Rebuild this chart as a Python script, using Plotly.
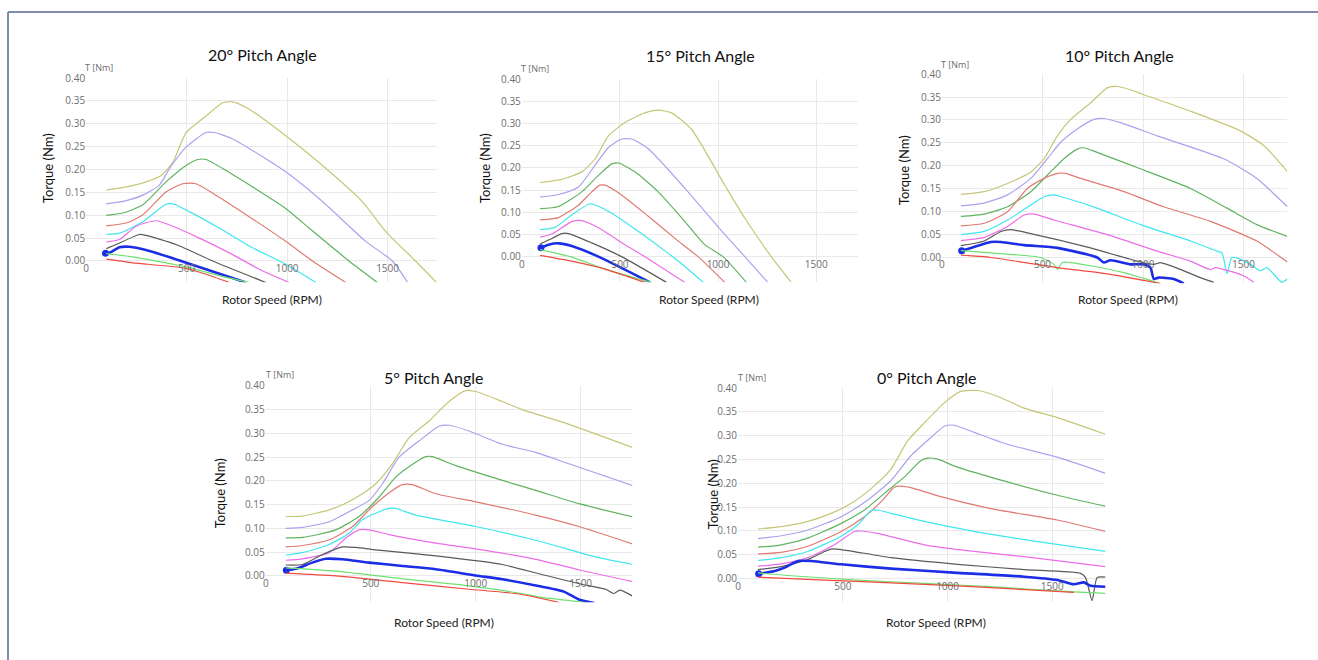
import plotly.graph_objects as go

W, H = 1318, 660

# ---------------- data (RPM, torque Nm) ----------------
# 20 deg
p20_olive_x = [100,199,298,373,431,497,596,679,729,811,993,1176,1374,1490,1639,1750]
p20_olive_y = [0.155,0.162,0.173,0.187,0.216,0.281,0.317,0.346,0.348,0.332,0.274,0.209,0.130,0.065,0.000,-0.050]
p20_purple_x = [100,190,282,364,414,497,596,638,729,993,1176,1391,1524,1600]
p20_purple_y = [0.125,0.131,0.144,0.166,0.202,0.249,0.281,0.281,0.267,0.195,0.130,0.043,0.000,-0.047]
p20_green_x = [100,182,282,397,497,555,596,696,993,1109,1308,1449]
p20_green_y = [0.100,0.105,0.123,0.173,0.209,0.222,0.222,0.198,0.115,0.072,0.000,-0.047]
p20_salmon_x = [100,199,282,397,480,546,646,811,993,1126,1292]
p20_salmon_y = [0.077,0.083,0.101,0.151,0.169,0.169,0.144,0.097,0.043,0.000,-0.047]
p20_cyan_x = [100,166,282,397,431,513,662,828,993,1143]
p20_cyan_y = [0.058,0.061,0.086,0.124,0.125,0.108,0.072,0.029,-0.007,-0.047]
p20_magenta_x = [100,166,248,348,431,563,729,861,1010]
p20_magenta_y = [0.042,0.047,0.076,0.088,0.076,0.050,0.014,-0.018,-0.047]
p20_gray_x = [100,149,265,298,447,629,894]
p20_gray_y = [0.027,0.036,0.058,0.056,0.036,0.000,-0.047]
p20_blue_x = [96,116,166,215,315,513,795]
p20_blue_y = [0.017,0.018,0.030,0.031,0.022,-0.006,-0.047]
p20_lime_x = [100,232,397,497,662,811]
p20_lime_y = [0.016,0.009,-0.004,-0.013,-0.032,-0.047]
p20_red_x = [100,232,497,596,712]
p20_red_y = [0.004,-0.004,-0.016,-0.029,-0.047]

# 15 deg
p15_olive_x = [93,203,305,373,441,525,627,695,763,864,1034,1136,1271,1373]
p15_olive_y = [0.167,0.174,0.191,0.220,0.272,0.302,0.324,0.330,0.324,0.287,0.161,0.087,0.000,-0.058]
p15_purple_x = [93,186,288,373,441,508,559,644,831,1034,1136,1254]
p15_purple_y = [0.134,0.140,0.157,0.206,0.246,0.265,0.265,0.243,0.154,0.050,0.000,-0.058]
p15_green_x = [93,186,305,390,458,492,576,695,831,932,1025,1144]
p15_green_y = [0.108,0.113,0.146,0.183,0.209,0.211,0.191,0.146,0.079,0.027,0.000,-0.058]
p15_salmon_x = [93,186,288,356,398,424,508,644,797,898,1034]
p15_salmon_y = [0.083,0.088,0.116,0.146,0.161,0.161,0.139,0.091,0.035,0.000,-0.058]
p15_cyan_x = [93,169,254,339,364,458,593,729,797,924]
p15_cyan_y = [0.061,0.066,0.094,0.118,0.118,0.098,0.057,0.013,-0.010,-0.058]
p15_magenta_x = [93,153,254,305,390,525,627,831]
p15_magenta_y = [0.044,0.051,0.079,0.081,0.065,0.027,0.000,-0.058]
p15_gray_x = [93,153,203,237,356,508,737]
p15_gray_y = [0.029,0.041,0.052,0.052,0.031,0.000,-0.058]
p15_blue_x = [97,136,186,254,390,653]
p15_blue_y = [0.020,0.027,0.030,0.024,0.000,-0.058]
p15_lime_x = [93,254,424,661]
p15_lime_y = [0.016,-0.001,-0.028,-0.058]
p15_red_x = [93,254,424,627]
p15_red_y = [0.003,-0.010,-0.028,-0.058]

# 10 deg
p10_olive_x = [94,210,326,442,508,574,640,739,822,872,938,1005,1236,1484,1600,1718]
p10_olive_y = [0.137,0.143,0.161,0.186,0.215,0.265,0.301,0.337,0.370,0.373,0.366,0.355,0.319,0.276,0.244,0.187]
p10_purple_x = [94,210,326,442,524,591,673,756,805,888,1070,1401,1566,1718]
p10_purple_y = [0.112,0.118,0.136,0.172,0.215,0.251,0.280,0.301,0.303,0.294,0.265,0.215,0.172,0.110]
p10_green_x = [94,210,326,442,524,607,673,706,772,987,1236,1418,1566,1718]
p10_green_y = [0.089,0.094,0.110,0.143,0.179,0.215,0.236,0.239,0.229,0.193,0.150,0.107,0.071,0.045]
p10_salmon_x = [94,210,326,425,508,574,615,690,905,1103,1335,1566,1718]
p10_salmon_y = [0.068,0.074,0.099,0.150,0.172,0.183,0.183,0.172,0.143,0.110,0.078,0.035,-0.011]
p10_cyan_x = [94,210,326,442,508,557,624,772,987,1236,1368,1393,1418,1442,1475,1533,1583,1616,1649,1690,1718]
p10_cyan_y = [0.049,0.056,0.081,0.114,0.132,0.136,0.128,0.107,0.071,0.035,0.013,0.009,-0.036,-0.001,-0.003,-0.016,-0.030,-0.023,-0.037,-0.055,-0.048]
p10_magenta_x = [94,210,326,409,458,557,822,1070,1236,1335,1360,1500,1550]
p10_magenta_y = [0.036,0.043,0.067,0.092,0.094,0.081,0.049,0.013,-0.009,-0.027,-0.023,-0.041,-0.055]
p10_gray_x = [94,210,293,342,425,739,971,1054,1087,1186,1285,1351]
p10_gray_y = [0.025,0.035,0.056,0.060,0.053,0.020,-0.009,-0.016,-0.012,-0.027,-0.045,-0.055]
p10_blue_x = [98,144,243,293,409,574,772,805,839,938,1004,1037,1054,1078,1153,1203]
p10_blue_y = [0.014,0.020,0.033,0.033,0.026,0.020,-0.001,-0.012,-0.007,-0.016,-0.016,-0.023,-0.048,-0.045,-0.048,-0.058]
p10_lime_x = [94,243,491,557,574,599,640,739,905,1087]
p10_lime_y = [0.014,0.009,-0.001,-0.016,-0.027,-0.012,-0.012,-0.019,-0.034,-0.058]
p10_red_x = [94,243,574,822,1087]
p10_red_y = [0.004,-0.001,-0.023,-0.037,-0.058]

# 5 deg
p5_olive_x = [95,175,302,381,460,524,603,683,778,873,952,1000,1127,1222,1444,1750]
p5_olive_y = [0.125,0.126,0.139,0.153,0.173,0.194,0.236,0.291,0.326,0.367,0.390,0.388,0.367,0.350,0.319,0.270]
p5_purple_x = [95,175,302,413,492,556,635,730,825,873,968,1127,1286,1444,1750]
p5_purple_y = [0.100,0.102,0.114,0.139,0.159,0.194,0.250,0.284,0.315,0.317,0.305,0.277,0.260,0.236,0.190]
p5_green_x = [95,175,333,444,540,619,714,762,794,905,1127,1286,1492,1750]
p5_green_y = [0.080,0.081,0.097,0.125,0.166,0.208,0.239,0.251,0.251,0.232,0.201,0.180,0.152,0.124]
p5_salmon_x = [95,175,302,413,508,603,651,698,810,1000,1286,1492,1750]
p5_salmon_y = [0.061,0.064,0.076,0.104,0.146,0.180,0.192,0.192,0.173,0.156,0.128,0.104,0.067]
p5_cyan_x = [95,175,302,397,460,540,587,619,714,1000,1286,1571,1750]
p5_cyan_y = [0.044,0.049,0.066,0.090,0.118,0.135,0.142,0.142,0.128,0.104,0.075,0.040,0.024]
p5_magenta_x = [95,175,302,381,444,492,587,810,1000,1286,1500,1750]
p5_magenta_y = [0.033,0.036,0.049,0.080,0.097,0.097,0.087,0.069,0.057,0.035,0.012,-0.012]
p5_gray_x = [95,175,270,365,429,524,810,1127,1315,1500,1620,1656,1687,1746]
p5_gray_y = [0.023,0.024,0.045,0.061,0.060,0.055,0.042,0.024,0.003,-0.017,-0.028,-0.037,-0.030,-0.042]
p5_blue_x = [98,143,222,286,365,492,651,810,1000,1127,1286,1420,1494,1565]
p5_blue_y = [0.012,0.015,0.028,0.036,0.035,0.028,0.021,0.014,0.001,-0.007,-0.020,-0.033,-0.050,-0.057]
p5_lime_x = [95,333,651,968,1206,1315,1470,1560]
p5_lime_y = [0.017,0.010,-0.006,-0.021,-0.036,-0.045,-0.053,-0.058]
p5_red_x = [95,333,651,968,1206,1400]
p5_red_y = [0.006,0.000,-0.014,-0.028,-0.038,-0.056]

# 0 deg
p0_olive_x = [95,206,333,444,540,635,730,809,889,984,1063,1143,1238,1365,1524,1754]
p0_olive_y = [0.104,0.109,0.120,0.137,0.158,0.189,0.230,0.289,0.327,0.369,0.393,0.395,0.383,0.358,0.338,0.303]
p0_purple_x = [95,206,333,492,619,730,825,920,984,1032,1127,1285,1524,1754]
p0_purple_y = [0.084,0.090,0.102,0.130,0.165,0.206,0.258,0.296,0.320,0.322,0.307,0.282,0.255,0.221]
p0_green_x = [95,206,333,492,603,698,793,873,905,952,1047,1285,1524,1754]
p0_green_y = [0.066,0.071,0.085,0.116,0.144,0.179,0.213,0.248,0.253,0.251,0.234,0.203,0.175,0.152]
p0_salmon_x = [95,206,333,492,603,682,746,778,841,968,1206,1524,1754]
p0_salmon_y = [0.052,0.055,0.068,0.099,0.130,0.161,0.192,0.194,0.189,0.172,0.147,0.123,0.099]
p0_cyan_x = [95,206,333,492,571,635,666,730,889,1127,1365,1754]
p0_cyan_y = [0.038,0.044,0.057,0.089,0.113,0.143,0.144,0.137,0.120,0.099,0.082,0.057]
p0_magenta_x = [95,206,333,460,555,587,666,889,1127,1365,1754]
p0_magenta_y = [0.026,0.031,0.044,0.071,0.099,0.100,0.095,0.071,0.057,0.046,0.025]
p0_gray_x = [95,206,333,413,444,492,730,1047,1365,1635,1659,1690,1714,1754]
p0_gray_y = [0.019,0.025,0.040,0.057,0.062,0.061,0.044,0.030,0.019,0.011,0.002,-0.046,0.002,0.003]
p0_blue_x = [98,175,222,286,349,492,730,1047,1365,1524,1603,1651,1682,1754]
p0_blue_y = [0.010,0.016,0.023,0.037,0.037,0.030,0.021,0.012,0.004,-0.003,-0.012,-0.008,-0.015,-0.017]
p0_lime_x = [95,254,571,889,1206,1603,1754]
p0_lime_y = [0.012,0.006,-0.003,-0.010,-0.017,-0.028,-0.031]
p0_red_x = [95,413,889,1206,1603]
p0_red_y = [0.003,-0.003,-0.012,-0.019,-0.029]

titles = ["20° Pitch Angle", "15° Pitch Angle", "10° Pitch Angle", "5° Pitch Angle", "0° Pitch Angle"]
y_ticks = [0.00, 0.05, 0.10, 0.15, 0.20, 0.25, 0.30, 0.35, 0.40]
x_ticks = [0, 500, 1000, 1500]

series_names = ["olive", "purple", "green", "salmon", "cyan", "magenta", "gray", "blue", "lime", "red"]
colors = {"olive": "#c6c678", "purple": "#a9a2ee", "green": "#5fb35f", "salmon": "#df7a72",
          "cyan": "#3ee6f0", "magenta": "#ec6de8", "gray": "#5a5a5a", "blue": "#1c2de6",
          "lime": "#6fe06f", "red": "#f04a40"}

panels_data = [
    [(p20_olive_x, p20_olive_y), (p20_purple_x, p20_purple_y), (p20_green_x, p20_green_y), (p20_salmon_x, p20_salmon_y), (p20_cyan_x, p20_cyan_y), (p20_magenta_x, p20_magenta_y), (p20_gray_x, p20_gray_y), (p20_blue_x, p20_blue_y), (p20_lime_x, p20_lime_y), (p20_red_x, p20_red_y)],
    [(p15_olive_x, p15_olive_y), (p15_purple_x, p15_purple_y), (p15_green_x, p15_green_y), (p15_salmon_x, p15_salmon_y), (p15_cyan_x, p15_cyan_y), (p15_magenta_x, p15_magenta_y), (p15_gray_x, p15_gray_y), (p15_blue_x, p15_blue_y), (p15_lime_x, p15_lime_y), (p15_red_x, p15_red_y)],
    [(p10_olive_x, p10_olive_y), (p10_purple_x, p10_purple_y), (p10_green_x, p10_green_y), (p10_salmon_x, p10_salmon_y), (p10_cyan_x, p10_cyan_y), (p10_magenta_x, p10_magenta_y), (p10_gray_x, p10_gray_y), (p10_blue_x, p10_blue_y), (p10_lime_x, p10_lime_y), (p10_red_x, p10_red_y)],
    [(p5_olive_x, p5_olive_y), (p5_purple_x, p5_purple_y), (p5_green_x, p5_green_y), (p5_salmon_x, p5_salmon_y), (p5_cyan_x, p5_cyan_y), (p5_magenta_x, p5_magenta_y), (p5_gray_x, p5_gray_y), (p5_blue_x, p5_blue_y), (p5_lime_x, p5_lime_y), (p5_red_x, p5_red_y)],
    [(p0_olive_x, p0_olive_y), (p0_purple_x, p0_purple_y), (p0_green_x, p0_green_y), (p0_salmon_x, p0_salmon_y), (p0_cyan_x, p0_cyan_y), (p0_magenta_x, p0_magenta_y), (p0_gray_x, p0_gray_y), (p0_blue_x, p0_blue_y), (p0_lime_x, p0_lime_y), (p0_red_x, p0_red_y)],
]

# ---------------- layout geometry (pixels) ----------------
geom = [
    dict(x0=83.3, x1=435.0, xmax=1746, top=71.7, zero=256.7, bottom=278.3),
    dict(x0=520.0, x1=856.7, xmax=1712, top=72.7, zero=252.3, bottom=278.3),
    dict(x0=941.0, x1=1287.3, xmax=1718, top=67.7, zero=252.7, bottom=279.3),
    dict(x0=263.3, x1=630.7, xmax=1746, top=382.7, zero=575.0, bottom=601.7),
    dict(x0=736.7, x1=1105.0, xmax=1754, top=385.0, zero=577.7, bottom=601.7),
]
title_pos = [(260, 48), (699, 49), (1119, 49), (432, 374), (926, 374)]
tnm_pos = [(80, 61), (517, 62), (938, 58), (262, 371), (735, 374)]
ylab_pos = [(45, 163), (483, 163), (903, 165), (217, 492), (711, 492)]
xlab_pos = [(270, 296), (708, 296), (1128, 296), (442, 622), (935, 622)]

def fx(px):
    return px / W

def fy(py):
    return 1 - py / H

fig = go.Figure()
layout = dict(width=W, height=H, margin=dict(l=0, r=0, t=0, b=0, pad=0), autosize=False,
              paper_bgcolor="white", plot_bgcolor="white", showlegend=False)
annotations = []
grid_c = "#e9e9e9"
tick_font = dict(family="Open Sans", size=10, color="#6e6e6e")

for i, g in enumerate(geom):
    n = i + 1
    ymin = -(g["bottom"] - g["zero"]) / (g["zero"] - g["top"]) * 0.40
    xa = dict(domain=[fx(g["x0"]), fx(g["x1"])], range=[-0.5, g["xmax"]], anchor="free",
              position=fy(g["zero"]), tickvals=x_ticks, ticktext=[str(v) for v in x_ticks],
              showgrid=True, gridcolor=grid_c, gridwidth=1, zeroline=False, showline=False,
              ticks="", tickfont=tick_font, fixedrange=True)
    ya = dict(domain=[fy(g["bottom"]), fy(g["top"])], range=[ymin, 0.4004], anchor=f"x{n}",
              tickvals=y_ticks, ticktext=[f"{v:.2f}" for v in y_ticks],
              showgrid=True, gridcolor=grid_c, gridwidth=1, zeroline=False, showline=False,
              ticks="", tickfont=tick_font, fixedrange=True)
    layout[f"xaxis{n}" if n > 1 else "xaxis"] = xa
    layout[f"yaxis{n}" if n > 1 else "yaxis"] = ya

    for name, (xs, ys) in zip(series_names, panels_data[i]):
        is_blue = name == "blue"
        fig.add_trace(go.Scatter(
            x=xs, y=ys, mode="lines", xaxis=f"x{n}", yaxis=f"y{n}",
            line=dict(color=colors[name], width=2.6 if is_blue else 1.2, shape="spline", smoothing=0.6),
            hoverinfo="skip"))
        if is_blue:
            fig.add_trace(go.Scatter(
                x=[xs[0]], y=[ys[0]], mode="markers", xaxis=f"x{n}", yaxis=f"y{n}",
                marker=dict(color=colors[name], size=7), hoverinfo="skip"))

    tx, ty = title_pos[i]
    annotations.append(dict(text=titles[i], x=fx(tx), y=fy(ty), xref="paper", yref="paper",
                            showarrow=False, xanchor="center", yanchor="middle",
                            font=dict(family="Lato", size=16, color="#111111")))
    nx, ny = tnm_pos[i]
    annotations.append(dict(text="T [Nm]", x=fx(nx), y=fy(ny), xref="paper", yref="paper",
                            showarrow=False, xanchor="left", yanchor="middle",
                            font=dict(family="Open Sans", size=9, color="#6e6e6e")))
    lx, ly = ylab_pos[i]
    annotations.append(dict(text="Torque (Nm)", x=fx(lx), y=fy(ly), xref="paper", yref="paper",
                            showarrow=False, xanchor="center", yanchor="middle", textangle=-90,
                            font=dict(family="Lato", size=13, color="#111111")))
    rx, ry = xlab_pos[i]
    annotations.append(dict(text="Rotor Speed (RPM)", x=fx(rx), y=fy(ry), xref="paper", yref="paper",
                            showarrow=False, xanchor="center", yanchor="middle",
                            font=dict(family="Lato", size=12, color="#222222")))

layout["annotations"] = annotations
border_c = "#7f8cab"
layout["shapes"] = [
    dict(type="line", xref="paper", yref="paper", x0=fx(5), x1=1.0, y0=fy(5), y1=fy(5),
         line=dict(color=border_c, width=2)),
    dict(type="line", xref="paper", yref="paper", x0=fx(5), x1=fx(5), y0=fy(5), y1=0.0,
         line=dict(color=border_c, width=2)),
]
fig.update_layout(**layout)

fig.write_html(
    "out.html",
    config={"displayModeBar": False, "staticPlot": True},
    post_script=("document.documentElement.style.overflow='hidden';"
                 "document.body.style.margin='0';"
                 "document.body.style.overflow='hidden';"
                 "var gd=document.getElementById('{plot_id}');"
                 "gd.style.position='fixed';gd.style.left='0px';gd.style.top='0px';"),
)
